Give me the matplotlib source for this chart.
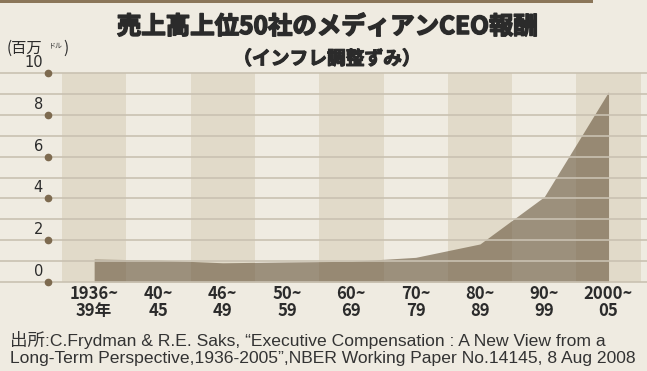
import matplotlib
matplotlib.use("Agg")
import matplotlib.pyplot as plt
import matplotlib.patheffects as pe
from matplotlib.patches import Rectangle

plt.rcParams["font.family"] = ["Noto Sans CJK JP", "DejaVu Sans"]

# data (median CEO pay, millions of dollars, inflation adjusted)
periods_top = ["1936~", "40~", "46~", "50~", "60~", "70~", "80~", "90~", "2000~"]
periods_bottom = ["39年", "45", "49", "59", "69", "79", "89", "99", "05"]
median_pay = [1.1, 1.05, 0.92, 0.96, 0.99, 1.18, 1.82, 4.08, 9.1]
y_ticks = [0, 2, 4, 6, 8, 10]

BG = "#efebe1"
BAND = "#e1dac9"
GRID = "#c9c1b1"
FILL = "#6a583e"
DOT = "#7d6a4f"
TEXT = "#2b2b2b"

W, H = 647, 371
fig = plt.figure(figsize=(W / 100, H / 100), dpi=100, facecolor=BG)

# top brown bar
fig.patches.append(Rectangle((0, 1 - 3 / H), 593 / W, 3 / H, transform=fig.transFigure,
                             facecolor="#8b7659", edgecolor="none"))

y0_px, y10_px = 282, 73
ax = fig.add_axes([0, (H - y0_px) / H, 1, (y0_px - y10_px) / H])
ax.set_facecolor(BG)
band_w = 64.3
x_left = -0.5 - 62 / band_w
x_right = x_left + W / band_w
ax.set_xlim(x_left, x_right)
ax.set_ylim(0, 10)
for s in ax.spines.values():
    s.set_visible(False)
ax.set_xticks([])
ax.set_yticks([])

n = len(median_pay)
xs = list(range(n))
for i in xs:
    if i % 2 == 0:
        ax.axvspan(i - 0.5, i + 0.5, color=BAND, lw=0, zorder=0)

ax.fill_between(xs, 0, median_pay, color=FILL, alpha=0.62, lw=0, zorder=1)

for v in range(0, 11):
    ax.axhline(v, color=GRID, lw=1.2, zorder=2, clip_on=False)

dot_x = 48 / W
for t in y_ticks:
    ax.plot([dot_x], [t], "o", ms=4.5, color=DOT, transform=ax.get_yaxis_transform(),
            clip_on=False, zorder=3)
    ax.text(43 / W, t + 0.14, str(t), transform=ax.get_yaxis_transform(),
            ha="right", va="bottom", fontsize=10.5, color=TEXT,
            family=["DejaVu Sans"])

xfont = ["Liberation Sans Narrow", "Noto Sans CJK JP"]
for i in xs:
    ax.text(i, -0.57, periods_top[i], ha="center", va="center", fontsize=12,
            fontweight="bold", family=xfont, color=TEXT)
    ax.text(i, -1.39, periods_bottom[i], ha="center", va="center", fontsize=12,
            fontweight="bold", family=xfont, color=TEXT)

# titles
fig.text(327 / W, 1 - 27 / H, "売上高上位50社のメディアンCEO報酬", ha="center", va="center",
         fontsize=17.6, fontweight="bold", color=TEXT,
         path_effects=[pe.withStroke(linewidth=1.1, foreground=TEXT)])
fig.text(327 / W, 1 - 59 / H, "（インフレ調整ずみ）", ha="center", va="center",
         fontsize=13.5, fontweight="bold", color=TEXT,
         path_effects=[pe.withStroke(linewidth=0.8, foreground=TEXT)])

# unit label
fig.text(7 / W, 1 - 48 / H, "(百万", ha="left", va="center", fontsize=11, color=TEXT)
fig.text(49 / W, 1 - 45 / H, "ドル", ha="left", va="center", fontsize=5, color=TEXT)
fig.text(63 / W, 1 - 48 / H, ")", ha="left", va="center", fontsize=11, color=TEXT)

# source
src_font = ["Liberation Sans", "Noto Sans CJK JP"]
fig.text(10 / W, 1 - 340 / H,
         "出所:C.Frydman & R.E. Saks, “Executive Compensation : A New View from a",
         ha="left", va="center", fontsize=12.6, color="#333333", family=src_font)
fig.text(10 / W, 1 - 358 / H,
         "Long-Term Perspective,1936-2005”,NBER Working Paper No.14145, 8 Aug 2008",
         ha="left", va="center", fontsize=12.6, color="#333333", family=src_font)

fig.savefig("out.png", dpi=100, facecolor=BG)
